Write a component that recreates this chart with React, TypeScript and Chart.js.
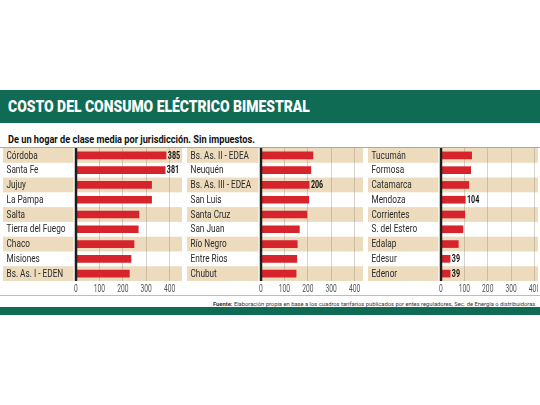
import React, { useEffect, useLayoutEffect, useRef } from "react";
import { Chart, registerables } from "chart.js";

Chart.register(...registerables);

// ---------- data ----------
const panel1Labels = ["Córdoba", "Santa Fe", "Jujuy", "La Pampa", "Salta", "Tierra del Fuego", "Chaco", "Misiones", "Bs. As. I - EDEN"];
const panel1Values = [385, 381, 323, 323, 269, 266, 248, 235, 228];
const panel1Shown = [0, 1];

const panel2Labels = ["Bs. As. II - EDEA", "Neuquén", "Bs. As. III - EDEA", "San Luis", "Santa Cruz", "San Juan", "Río Negro", "Entre Rios", "Chubut"];
const panel2Values = [222, 213, 206, 204, 196, 164, 155, 153, 150];
const panel2Shown = [2];

const panel3Labels = ["Tucumán", "Formosa", "Catamarca", "Mendoza", "Corrientes", "S. del Estero", "Edalap", "Edesur", "Edenor"];
const panel3Values = [131, 127, 119, 104, 102, 94, 74, 39, 39];
const panel3Shown = [3, 7, 8];

const tickValues = [0, 100, 200, 300, 400];

const TITLE = "COSTO DEL CONSUMO ELÉCTRICO BIMESTRAL";
const SUBTITLE = "De un hogar de clase media por jurisdicción. Sin impuestos.";
const SOURCE_BOLD = "Fuente:";
const SOURCE_TEXT = " Elaboración propia en base a los cuadros tarifarios publicados por entes reguladores, Sec. de Energía o distribuidoras.";

// ---------- styles ----------
const GREEN = "#0f6b53";
const BEIGE = "#eddbbd";
const RED = "#d7232b";
const GRID = "rgba(140,130,110,0.35)";
const FONT = "Roboto, 'Liberation Sans', sans-serif";

type PanelCfg = {
  labels: string[];
  values: number[];
  shown: number[];
  left: number;
  width: number;
  labelWidth: number;
  xMax: number;
};

const panels: PanelCfg[] = [
  { labels: panel1Labels, values: panel1Values, shown: panel1Shown, left: 3, width: 179, labelWidth: 73, xMax: 453 },
  { labels: panel2Labels, values: panel2Values, shown: panel2Shown, left: 187, width: 176, labelWidth: 74, xMax: 436 },
  { labels: panel3Labels, values: panel3Values, shown: panel3Shown, left: 368, width: 170, labelWidth: 73, xMax: 415 },
];

const CHART_TOP = 148;
const CHART_H = 147;

function makePlugin(cfg: PanelCfg) {
  return {
    id: "panelDeco",
    beforeDraw(chart: any) {
      const { ctx, chartArea, scales } = chart;
      const y = scales.y;
      const n = cfg.labels.length;
      const slot = (chartArea.bottom - chartArea.top) / n;
      ctx.save();
      ctx.fillStyle = BEIGE;
      for (let i = 0; i < n; i += 2) {
        const cy = y.getPixelForValue(i);
        ctx.fillRect(0, cy - slot / 2, chartArea.left - 2.5, slot);
        ctx.fillRect(chartArea.left, cy - slot / 2, chart.width - chartArea.left, slot);
      }
      ctx.restore();
    },
    afterDatasetsDraw(chart: any) {
      const { ctx, chartArea, scales } = chart;
      const x = scales.x;
      const y = scales.y;
      ctx.save();
      // zero axis line
      const x0 = x.getPixelForValue(0);
      ctx.strokeStyle = "#1e1e1e";
      ctx.lineWidth = 2.5;
      ctx.beginPath();
      ctx.moveTo(x0, chartArea.top);
      ctx.lineTo(x0, chartArea.bottom);
      ctx.stroke();

      // category labels (condensed)
      ctx.font = `10.5px ${FONT}`;
      const sx = 59 / ctx.measureText("Tierra del Fuego").width;
      ctx.fillStyle = "#2a2a2a";
      ctx.textBaseline = "middle";
      ctx.textAlign = "left";
      cfg.labels.forEach((lab, i) => {
        const cy = y.getPixelForValue(i);
        ctx.save();
        ctx.translate(3.5, cy + 0.5);
        ctx.scale(sx, 1);
        ctx.fillText(lab, 0, 0);
        ctx.restore();
      });

      // value labels
      ctx.font = `bold 10.5px ${FONT}`;
      const sx2 = 12.3 / ctx.measureText("385").width;
      ctx.fillStyle = "#111";
      cfg.shown.forEach((i) => {
        const v = cfg.values[i];
        const px = x.getPixelForValue(v) + 1.7;
        const cy = y.getPixelForValue(i);
        ctx.save();
        ctx.translate(px, cy + 0.5);
        ctx.scale(sx2, 1);
        ctx.fillText(String(v), 0, 0);
        ctx.restore();
      });

      // tick labels
      ctx.font = `10px ${FONT}`;
      const sx3 = 11.3 / ctx.measureText("400").width;
      ctx.fillStyle = "#555";
      ctx.textAlign = "center";
      tickValues.forEach((t) => {
        const px = x.getPixelForValue(t);
        ctx.save();
        ctx.translate(px, chartArea.bottom + 8.5);
        ctx.scale(sx3, 1);
        ctx.fillText(String(t), 0, 0);
        ctx.restore();
      });
      ctx.restore();
    },
  };
}

function Panel({ cfg }: { cfg: PanelCfg }) {
  const ref = useRef<HTMLCanvasElement>(null);
  useEffect(() => {
    if (!ref.current) return;
    const chart = new Chart(ref.current, {
      type: "bar",
      data: {
        labels: cfg.labels,
        datasets: [
          {
            data: cfg.values,
            backgroundColor: RED,
            borderWidth: 0,
            barThickness: 7,
          },
        ],
      },
      options: {
        indexAxis: "y",
        animation: false,
        responsive: true,
        maintainAspectRatio: false,
        layout: { padding: { left: cfg.labelWidth, right: 0, top: 0, bottom: 0 } },
        plugins: { legend: { display: false }, tooltip: { enabled: false } },
        scales: {
          x: {
            min: 0,
            max: cfg.xMax,
            afterBuildTicks: (ax: any) => {
              ax.ticks = tickValues.map((v) => ({ value: v }));
            },
            afterFit: (ax: any) => {
              ax.height = 14;
            },
            ticks: { display: false },
            border: { display: false },
            grid: {
              drawTicks: false,
              lineWidth: 1,
              color: (c: any) => (c.tick && c.tick.value === 0 ? "rgba(0,0,0,0)" : GRID),
            },
          },
          y: { display: false },
        },
      } as any,
      plugins: [makePlugin(cfg) as any],
    });
    return () => chart.destroy();
  }, [cfg]);
  return (
    <div style={{ position: "absolute", left: cfg.left, top: CHART_TOP, width: cfg.width, height: CHART_H }}>
      <canvas ref={ref} />
    </div>
  );
}

function FitText({
  left, top, width, fontSize, weight, color, sy = 1, children,
}: {
  left: number; top: number; width: number; fontSize: number; weight: string | number; color: string; sy?: number; children: React.ReactNode;
}) {
  const ref = useRef<HTMLSpanElement>(null);
  useLayoutEffect(() => {
    const el = ref.current;
    if (!el) return;
    el.style.transform = "none";
    const w = el.offsetWidth;
    if (w > 0) el.style.transform = `scale(${width / w}, ${sy})`;
  });
  return (
    <span
      ref={ref}
      style={{
        position: "absolute",
        left,
        top,
        display: "inline-block",
        whiteSpace: "nowrap",
        fontFamily: FONT,
        fontSize,
        lineHeight: `${fontSize}px`,
        fontWeight: weight as any,
        color,
        transformOrigin: "left top",
      }}
    >
      {children}
    </span>
  );
}

export default function App() {
  return (
    <div style={{ position: "fixed", left: 0, top: 0, width: 540, height: 405, background: "#fff", overflow: "hidden" }}>
      <div style={{ position: "absolute", left: 0, top: 90, width: 540, height: 33, background: GREEN }} />
      <FitText left={8} top={99.4} width={302} fontSize={16.5} weight={900} color="#fff">
        {TITLE}
      </FitText>
      <FitText left={8} top={135.2} width={247} fontSize={10.5} weight="bold" color="#111">
        {SUBTITLE}
      </FitText>
      <div style={{ position: "absolute", left: 0, top: 147, width: 540, height: 1, background: "#a8a8a8" }} />
      {panels.map((p, i) => (
        <Panel key={i} cfg={p} />
      ))}
      <div style={{ position: "absolute", left: 0, top: 295, width: 540, height: 1, background: "#bdbdbd" }} />
      <FitText left={213} top={300.6} width={324} fontSize={12} weight="normal" color="#333" sy={0.48}>
        <b>{SOURCE_BOLD}</b>
        {SOURCE_TEXT}
      </FitText>
      <div style={{ position: "absolute", left: 0, top: 307, width: 540, height: 8, background: GREEN }} />
    </div>
  );
}
